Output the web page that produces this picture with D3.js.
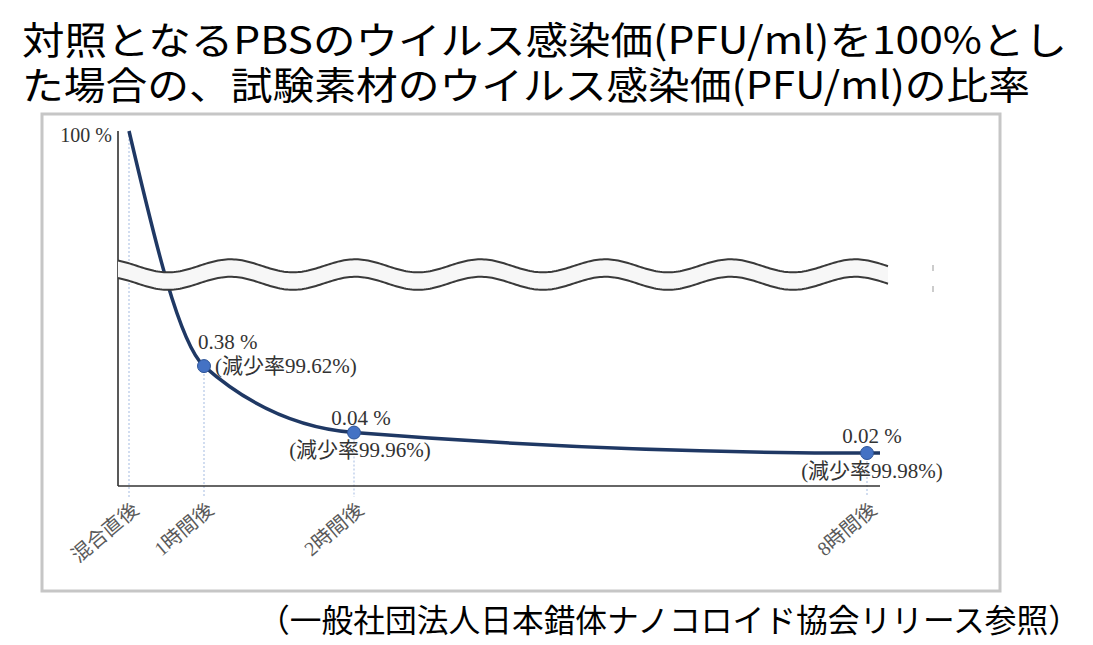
<!DOCTYPE html>
<head>
<meta charset="utf-8">
<script src="https://d3js.org/d3.v7.min.js"></script>
<style>
body{ margin:0; background:#fff; }
text{ font-family: "Noto Sans CJK JP", sans-serif; }
text.title, text.source{ fill:#000; }
text.note{ font-family: "Liberation Serif", "Noto Sans CJK JP", serif; font-size:21px; fill:#333; }
text.xLabel{ font-family: "Liberation Serif", "Noto Sans CJK JP", serif; font-size:20px; fill:#5a5a5a; }
.yAxis text{ font-family: "Liberation Serif", serif; font-size:20px; fill:#333; }
.yAxis path.domain{ display:none; }
</style>
</head>
<body>
<script>
const width = 1093, height = 645;

// data
const timeLabels = ["混合直後", "1時間後", "2時間後", "8時間後"];
const hours      = [0, 1, 2, 8];
const ratios     = [100, 0.38, 0.04, 0.02];   // % of PBS control
const reductions = [null, 99.62, 99.96, 99.98];
const yTicks     = [100];

const titleLines = [
  "対照となるPBSのウイルス感染価(PFU/ml)を100%とし",
  "た場合の、試験素材のウイルス感染価(PFU/ml)の比率"
];
const sourceText = "（一般社団法人日本錯体ナノコロイド協会リリース参照）";

// plot frame
const plot = {left:118, right:880, top:131, bottom:486};

const svg = d3.select("body").append("svg")
  .attr("width", width)
  .attr("height", height);

// uneven, hand-drawn style spacing of the time axis
const x = d3.scaleLinear()
  .domain(hours)
  .range([plot.left + 11, 204, 354, plot.right - 13]);

// broken log axis: lower part in detail, upper part compressed
const y = d3.scaleLog()
  .domain([0.01, 1, 100])
  .range([473.5, 337.5, plot.top]);

// titles
svg.selectAll("text.title")
  .data(titleLines)
  .enter().append("text")
  .attr("class", "title")
  .attr("x", 22)
  .attr("y", (d, i) => 54 + i * 45)
  .attr("font-size", 38)
  .attr("textLength", (d, i) => i == 0 ? 1045 : 1008)
  .attr("lengthAdjust", "spacingAndGlyphs")
  .text(d => d);

svg.append("text")
  .attr("class", "source")
  .attr("x", 258)
  .attr("y", 632)
  .attr("font-size", 32)
  .attr("textLength", 822)
  .attr("lengthAdjust", "spacingAndGlyphs")
  .text(sourceText);

// chart border
svg.append("rect")
  .attr("x", 42).attr("y", 114)
  .attr("width", 958).attr("height", 477)
  .attr("fill", "none")
  .attr("stroke", "#c6c6c6")
  .attr("stroke-width", 3);

const pts = hours.map((h, i) => ({
  h: h, v: ratios[i], r: reductions[i], label: timeLabels[i],
  px: x(h), py: y(ratios[i])
}));

// dotted guides
svg.selectAll("line.guide")
  .data(pts)
  .enter().append("line")
  .attr("class", "guide")
  .attr("x1", d => d.px).attr("x2", d => d.px)
  .attr("y1", d => d.py).attr("y2", plot.bottom + 11)
  .attr("stroke", "#b4c7e7")
  .attr("stroke-width", 1.2)
  .attr("stroke-dasharray", "2,2");

// axis lines
svg.append("line")
  .attr("x1", plot.left).attr("x2", plot.left)
  .attr("y1", plot.top).attr("y2", plot.bottom)
  .attr("stroke", "#222").attr("stroke-width", 1.5);
svg.append("line")
  .attr("x1", plot.left).attr("x2", plot.right)
  .attr("y1", plot.bottom).attr("y2", plot.bottom)
  .attr("stroke", "#333").attr("stroke-width", 1.5);

svg.append("g")
  .attr("class", "yAxis")
  .attr("transform", `translate(${plot.left},0)`)
  .call(d3.axisLeft(y).tickValues(yTicks).tickSize(0).tickPadding(6).tickFormat(d => d + " %"))
  .selectAll("text").attr("dy", "0.5em");

// the curve, running flat to the end of the axis
const curvePts = pts.map(d => [d.px, d.py]);
curvePts.push([plot.right, y(ratios[ratios.length - 1])]);

svg.append("path")
  .attr("d", d3.line().curve(d3.curveMonotoneX)(curvePts))
  .attr("fill", "none")
  .attr("stroke", "#1f3864")
  .attr("stroke-width", 3.5);

// axis break band
const waveX = d3.range(plot.left, 889, 2);
const wave = (xx, off) => 265.8 + off + 6.5 * Math.cos(2 * Math.PI * (xx - 168) / 125);
const topWave = waveX.map(xx => [xx, wave(xx, 0)]);
const botWave = waveX.map(xx => [xx, wave(xx, 17.5)]);

svg.append("path")
  .attr("d", d3.line()(topWave.concat(botWave.slice().reverse())) + "Z")
  .attr("fill", "#f7f7f7")
  .attr("stroke", "none");
[topWave, botWave].forEach(w => {
  svg.append("path")
    .attr("d", d3.line()(w))
    .attr("fill", "none")
    .attr("stroke", "#3a3a3a")
    .attr("stroke-width", 2);
});
// small leftover ticks to the right of the band
[268, 289].forEach(yy => {
  svg.append("line")
    .attr("x1", 933).attr("x2", 933)
    .attr("y1", yy - 3).attr("y2", yy + 3)
    .attr("stroke", "#999").attr("stroke-width", 1);
});

// markers
const marked = pts.filter(d => d.r != null);
svg.selectAll("circle.pt")
  .data(marked)
  .enter().append("circle")
  .attr("class", "pt")
  .attr("cx", d => d.px).attr("cy", d => d.py)
  .attr("r", 6.5)
  .attr("fill", "#4472c4")
  .attr("stroke", "#2f5597")
  .attr("stroke-width", 1);

// annotation placement per point
function noteLayout(i){
  if(i == 1) return {va:"start", vx:-6, vy:-17, ra:"start", rx:11, ry:7};
  if(i == 2) return {va:"middle", vx:7, vy:-8, ra:"middle", rx:6, ry:24};
  return {va:"middle", vx:5, vy:-10, ra:"middle", rx:5, ry:25};
}

marked.forEach(d => {
  const i = pts.indexOf(d);
  const L = noteLayout(i);
  svg.append("text")
    .attr("class", "note")
    .attr("x", d.px + L.vx).attr("y", d.py + L.vy)
    .style("text-anchor", L.va)
    .text(d.v + " %");
  svg.append("text")
    .attr("class", "note")
    .attr("x", d.px + L.rx).attr("y", d.py + L.ry)
    .style("text-anchor", L.ra)
    .text("(減少率" + d.r + "%)");
});

// rotated time labels
svg.selectAll("text.xLabel")
  .data(pts)
  .enter().append("text")
  .attr("class", "xLabel")
  .attr("transform", d => `translate(${d.px + 11},${plot.bottom + 26}) rotate(-40)`)
  .style("text-anchor", "end")
  .text(d => d.label);
</script>
</body>
